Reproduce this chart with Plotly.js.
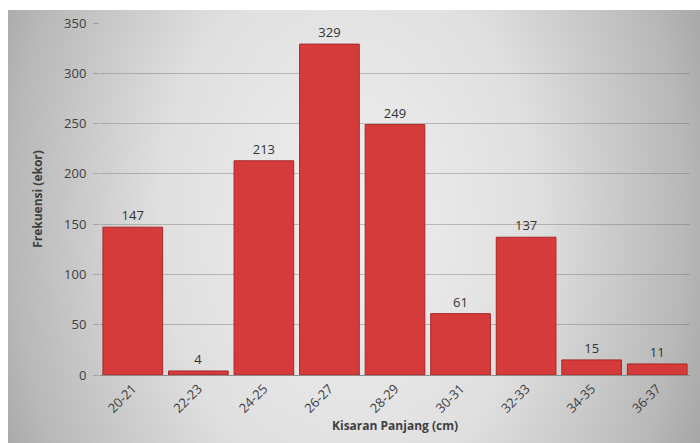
<!DOCTYPE html>
<html><head><meta charset="utf-8">
<script src="https://cdn.plot.ly/plotly-3.0.1.min.js"></script>
<style>html,body{margin:0;padding:0;background:#fff;}</style>
</head><body><div id="chart" style="width:700px;height:443px;"></div>
<script>
var categories = ["20-21","22-23","24-25","26-27","28-29","30-31","32-33","34-35","36-37"];
var frequencies = [147, 4, 213, 329, 249, 61, 137, 15, 11];
var yTicks = [0, 50, 100, 150, 200, 250, 300, 350];

var bgSvg = '<svg xmlns="http://www.w3.org/2000/svg" width="692" height="433" preserveAspectRatio="none">' +
  '<defs><radialGradient id="g" gradientUnits="userSpaceOnUse" cx="0" cy="0" r="1" gradientTransform="translate(340 210) scale(420 600)">' +
  '<stop offset="0" stop-color="#f0f0f0"/><stop offset="0.45" stop-color="#dfdfdf"/><stop offset="0.8" stop-color="#b8b8b8"/><stop offset="1" stop-color="#9a9a9a"/></radialGradient></defs>' +
  '<rect x="0" y="0" width="692" height="433" fill="url(#g)"/></svg>';
var bgUri = 'data:image/svg+xml;base64,' + btoa(bgSvg);

var trace = {
  type: 'bar',
  x: categories,
  y: frequencies,
  text: frequencies.map(String),
  textposition: 'outside',
  cliponaxis: false,
  textfont: {family: 'Open Sans, sans-serif', size: 13, color: '#333333'},
  marker: {color: '#d63b3b', line: {color: '#a82626', width: 1}},
  hoverinfo: 'x+y'
};

var layout = {
  width: 700, height: 443,
  margin: {l: 100, r: 10, t: 23, b: 68},
  paper_bgcolor: '#ffffff',
  plot_bgcolor: 'rgba(0,0,0,0)',
  bargap: 0.09,
  showlegend: false,
  images: [{
    source: bgUri, xref: 'paper', yref: 'paper',
    x: -92/590, y: 1 + 13/352, sizex: 692/590, sizey: 433/352,
    xanchor: 'left', yanchor: 'top', sizing: 'stretch', layer: 'below'
  }],
  xaxis: {
    tickangle: -45,
    tickfont: {family: 'Open Sans, sans-serif', size: 13, color: '#404040'},
    title: {text: '<b>Kisaran Panjang (cm)</b>', font: {family: 'Open Sans, sans-serif', size: 12, color: '#404040'}, standoff: 2},
    showline: true, linecolor: '#8c8c8c', linewidth: 1,
    ticks: '', fixedrange: true
  },
  yaxis: {
    range: [0, 350],
    tickvals: yTicks,
    tickfont: {family: 'Open Sans, sans-serif', size: 13, color: '#404040'},
    title: {text: '<b>Frekuensi (ekor)</b>', font: {family: 'Open Sans, sans-serif', size: 12, color: '#404040'}, standoff: 18},
    showgrid: true, gridcolor: 'rgba(110,110,110,0.4)', gridwidth: 1,
    zeroline: false, ticks: 'outside', ticklen: 6, tickcolor: 'rgba(110,110,110,0.4)',
    ticklabelstandoff: 4, fixedrange: true
  }
};

Plotly.newPlot('chart', [trace], layout, {displayModeBar: false, staticPlot: true});
</script></body></html>
